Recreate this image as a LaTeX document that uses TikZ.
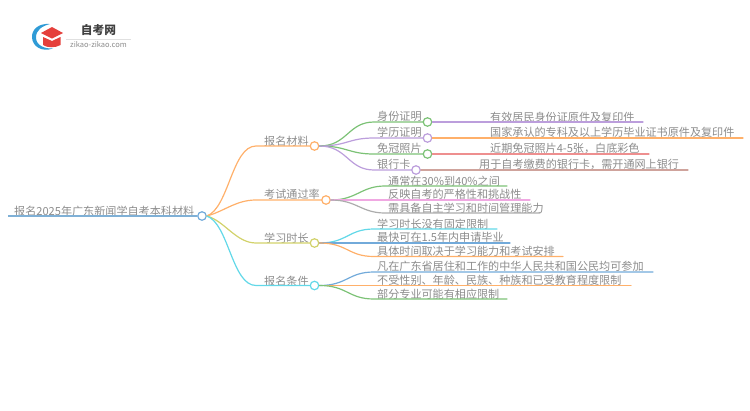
\documentclass[tikz,border=0pt]{standalone}
\usepackage{fontspec}
\setmainfont{Noto Sans CJK SC}
\definecolor{cText}{HTML}{8C8C8C}
\definecolor{cRoot}{HTML}{7FB0D6}
\definecolor{cOrange}{HTML}{FFB06A}
\definecolor{cOlive}{HTML}{D2D26A}
\definecolor{cCyan}{HTML}{62D8E8}
\definecolor{cGreen}{HTML}{7CC276}
\definecolor{cPurple}{HTML}{BC9EDC}
\definecolor{cRed}{HTML}{EE8F8F}
\definecolor{cBrown}{HTML}{CFA39C}
\definecolor{cPink}{HTML}{F0A8E2}
\definecolor{cGray}{HTML}{ACACAC}
\definecolor{cBlue}{HTML}{72AADA}
\definecolor{cLogoBlue}{HTML}{2F9BD6}
\definecolor{cLogoRed}{HTML}{E5403C}
\tikzset{
  txt/.style={anchor=west,inner sep=0pt,text=cText,font=\fontsize{11.1}{12}\selectfont},
  dot/.style={circle,draw=#1,fill=white,line width=1.2pt,minimum size=8.5pt,inner sep=0pt},
  link/.style={draw=#1,line width=1.2pt,line cap=round},
  leaf/.style={draw=#1,line width=1.2pt,line cap=round}
}
\begin{document}
\begin{tikzpicture}[x=1pt,y=-1pt]
\useasboundingbox (0,0) rectangle (750,410);
% logo
\fill[cLogoBlue] (50,24) .. controls (38,23) and (31.5,30) .. (32,37.5) .. controls (32.5,46) and (41,52.5) .. (53,48.5) .. controls (44,49) and (36,45) .. (36,37.5) .. controls (36,30) and (42,26) .. (50,24) -- cycle;
\fill[cLogoRed] (41,33) -- (52,27) -- (63,33) -- (52,38.5) -- cycle;
\fill[cLogoRed] (43,37) -- (52,41) -- (60.5,37) -- (60.5,45) .. controls (56,48) and (47,48) .. (43,45) -- cycle;
\node[inner sep=0pt,text=black!75,font=\fontsize{11.7}{12}\selectfont\bfseries] (logoA) at (98.5,30.5) {自考网};
\node[inner sep=0pt,text=black!45,font=\fontsize{7.5}{8}\selectfont] (logoB) at (98.5,45) {zikao-zikao.com};
\coordinate (logoL) at (66,39);
\coordinate (logoR) at (131,39);
\draw[black!12,line width=.8pt] (logoL) -- (logoR);
% root
\coordinate (rootS) at (8,216);
\node[dot=cBlue] (root) at (202,216) {};
\node[txt] (rootT) at (14,211) {报名2025年广东新闻学自考本科材料};
\draw[cRoot,line width=1.6pt] (rootS) -- (root.west);
% branches
\node[dot=cOrange] (b1) at (314.5,146) {};
\node[dot=cOrange] (b2) at (326,200) {};
\node[dot=cOlive] (b3) at (314.5,243) {};
\node[dot=cCyan] (b4) at (314.5,285.5) {};
\node[txt] (b1T) at (264,141) {报名材料};
\node[txt] (b2T) at (264,194.5) {考试通过率};
\node[txt] (b3T) at (264,238) {学习时长};
\node[txt] (b4T) at (264,281) {报名条件};
\coordinate (b1K) at (256,146);
\coordinate (b2K) at (256,200);
\coordinate (b3K) at (256,243);
\coordinate (b4K) at (256,285.5);
\path[link=cOrange] (root.east) .. controls +(22,-8) and +(-24,0) .. (b1K) -- (b1.west);
\path[link=cOrange] (root.east) .. controls +(18,-5) and +(-20,0) .. (b2K) -- (b2.west);
\path[link=cOlive] (root.east) .. controls +(18,5) and +(-20,0) .. (b3K) -- (b3.west);
\path[link=cCyan] (root.east) .. controls +(22,8) and +(-24,0) .. (b4K) -- (b4.west);
% group 1
\node[dot=cGreen] (a1) at (427.5,122) {};
\node[dot=cPurple] (a2) at (427.5,138) {};
\node[dot=cGreen] (a3) at (427.5,154) {};
\node[dot=cPurple] (a4) at (416,170) {};
\node[txt] (a1T) at (377,116.5) {身份证明};
\node[txt] (a2T) at (377,132.5) {学历证明};
\node[txt] (a3T) at (377,148.5) {免冠照片};
\node[txt] (a4T) at (377,164.5) {银行卡};
\foreach \n/\y in {a1K/122,a2K/138,a3K/154,a4K/170}{\coordinate (\n) at (374,\y);}
\path[link=cGreen] (b1.east) .. controls +(28,0) and +(-26,0) .. (a1K) -- (a1.west);
\path[link=cPurple] (b1.east) .. controls +(28,0) and +(-26,0) .. (a2K) -- (a2.west);
\path[link=cGreen] (b1.east) .. controls +(28,0) and +(-26,0) .. (a3K) -- (a3.west);
\path[link=cPurple] (b1.east) .. controls +(28,0) and +(-26,0) .. (a4K) -- (a4.west);
\node[txt] (l1T) at (490,117) {有效居民身份证原件及复印件};
\node[txt] (l2T) at (490,132.5) {国家承认的专科及以上学历毕业证书原件及复印件};
\node[txt] (l3T) at (490,148.5) {近期免冠照片4-5张，白底彩色};
\node[txt] (l4T) at (479,164.5) {用于自考缴费的银行卡，需开通网上银行};
\coordinate (l1E) at (643,122);
\coordinate (l2E) at (743,138);
\coordinate (l3E) at (649,154);
\coordinate (l4E) at (688,170);
\path[leaf=cPurple] (a1.east) -- (l1E);
\path[leaf=cOrange] (a2.east) -- (l2E);
\path[leaf=cRed] (a3.east) -- (l3E);
\path[leaf=cBrown] (a4.east) -- (l4E);
% group 2
\node[txt] (c1T) at (388,181) {通常在30\%到40\%之间};
\node[txt] (c2T) at (388,194.5) {反映自考的严格性和挑战性};
\node[txt] (c3T) at (388,208) {需具备自主学习和时间管理能力};
\coordinate (c1K) at (385,186);
\coordinate (c2K) at (385,200);
\coordinate (c3K) at (385,213);
\coordinate (c1E) at (507,186);
\coordinate (c2E) at (530,200);
\coordinate (c3E) at (540,213);
\path[leaf=cGreen] (b2.east) .. controls +(26,0) and +(-24,0) .. (c1K) -- (c1E);
\path[leaf=cPink] (b2.east) -- (c2E);
\path[leaf=cGray] (b2.east) .. controls +(26,0) and +(-24,0) .. (c3K) -- (c3E);
% group 3
\node[txt] (d1T) at (377,224) {学习时长没有固定限制};
\node[txt] (d2T) at (377,237.5) {最快可在1.5年内申请毕业};
\node[txt] (d3T) at (377,251) {具体时间取决于学习能力和考试安排};
\coordinate (d1K) at (374,229);
\coordinate (d3K) at (374,256.5);
\coordinate (d1E) at (497,229);
\coordinate (d2E) at (510,243);
\coordinate (d3E) at (563,256.5);
\path[leaf=cCyan] (b3.east) .. controls +(28,0) and +(-26,0) .. (d1K) -- (d1E);
\path[leaf=cBlue] (b3.east) -- (d2E);
\path[leaf=cOrange] (b3.east) .. controls +(28,0) and +(-26,0) .. (d3K) -- (d3E);
% group 4
\node[txt] (e1T) at (377,266.5) {凡在广东省居住和工作的中华人民共和国公民均可参加};
\node[txt] (e2T) at (377,280.5) {不受性别、年龄、民族、种族和已受教育程度限制};
\node[txt] (e3T) at (377,294) {部分专业可能有相应限制};
\coordinate (e1K) at (374,272);
\coordinate (e3K) at (374,299);
\coordinate (e1E) at (653,272);
\coordinate (e2E) at (631,285.5);
\coordinate (e3E) at (507,299);
\path[leaf=cBlue] (b4.east) .. controls +(28,0) and +(-26,0) .. (e1K) -- (e1E);
\path[leaf=cOrange] (b4.east) -- (e2E);
\path[leaf=cGreen] (b4.east) .. controls +(28,0) and +(-26,0) .. (e3K) -- (e3E);
\end{tikzpicture}
\end{document}
